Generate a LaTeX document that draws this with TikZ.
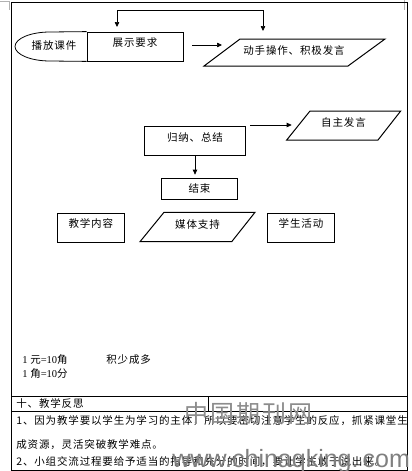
\documentclass[tikz,border=0pt]{standalone}
\usepackage{fontspec}
\setmainfont{Liberation Serif}
\newfontfamily\cjk[LetterSpace=8]{Noto Sans CJK SC}
\newfontfamily\wmfont{Liberation Sans}
\usetikzlibrary{arrows.meta}
\begin{document}
\begin{tikzpicture}[x=1pt,y=-1pt,
  line width=0.8pt,
  txt/.style={font=\cjk\fontsize{10.5pt}{12pt}\selectfont, inner sep=0pt},
  plain/.style={font=\fontsize{10.5pt}{12pt}\selectfont, inner sep=0pt},
  boxed/.style={draw, line width=0.8pt, inner sep=0pt},
  raised/.style={text height=8pt, text depth=8pt},
  arr/.style={-{Triangle[length=5pt,width=4.5pt]}, line width=0.7pt},
  dbl/.style={{Triangle[length=5pt,width=4.5pt]}-{Triangle[length=5pt,width=4.5pt]}, line width=0.7pt},
  para/.style={draw, line width=1pt},
  frame/.style={line width=0.9pt},
  cropmark/.style={draw=black!30, line width=0.6pt}
]
\useasboundingbox (0,0) rectangle (412,471);

% corner marks
\draw[cropmark] (0,1) -- (9,1) -- (9,10);
\draw[cropmark] (404,0) -- (404,10);

% table frame
\draw[frame] (11,2.5) rectangle (407.5,470.5);
\draw[frame] (11,396) -- (407.5,396);
\draw[frame] (11,411.5) -- (407.5,411.5);
\draw[frame] (208,396) -- (208,411.5);

% flowchart, first row
\node[boxed, txt, raised, minimum width=96pt, minimum height=29pt] (show) at (135,46.5) {展示要求};
\node[txt] (play) at (54,45.5) {播放课件};
\draw (show.north west) -- (50,32) arc[start angle=90, end angle=270, x radius=35pt, y radius=14.5pt] -- (show.south west);

\draw[para] (240,39) -- (385,39) -- (348,66) -- (204,66) -- cycle;
\node[txt] (act) at (294,51) {动手操作、积极发言};

\coordinate (a1) at (192,45);
\coordinate (a2) at (222,45);
\draw[arr] (a1) -- (a2);

\coordinate (t1) at (117,27);
\coordinate (t2) at (263,31);
\draw[dbl] (t1) -- ++(0,-17) -| (t2);

% second block
\node[boxed, txt, raised, minimum width=101.7pt, minimum height=28.3pt] (sum) at (195,141) {归纳、总结};
\coordinate (a3) at (250,125);
\coordinate (a4) at (291.7,125);
\draw[arr] (a3) -- (a4);

\draw[para] (310,111) -- (400.7,111) -- (378,140) -- (286.7,140) -- cycle;
\node[txt] (self) at (343.5,123) {自主发言};

\node[boxed, txt, minimum width=75.6pt, minimum height=20.7pt] (fin) at (199.5,188.7) {结束};
\draw[arr, shorten >=3.3pt] (sum.south) -- (sum.south |- fin.north);

% legend row
\node[boxed, txt, raised, minimum width=67pt, minimum height=29pt] (cont) at (90.8,227.8) {教学内容};
\draw[para] (164,212.3) -- (255,212.3) -- (231.7,241.7) -- (140,241.7) -- cycle;
\node[txt] (media) at (197.5,224.5) {媒体支持};
\node[boxed, txt, raised, minimum width=67.4pt, minimum height=29pt] (stud) at (301,227.8) {学生活动};

% notes
\node[plain, anchor=west] (m1) at (22,359.3) {1 {\cjk 元}=10{\cjk 角}};
\node[txt, anchor=west] (m2) at (106,359.3) {积少成多};
\node[plain, anchor=west] (m3) at (22,374) {1 {\cjk 角}=10{\cjk 分}};

% reflection
\node[txt, anchor=west] (r0) at (16,403.5) {十、教学反思};
\node[txt, anchor=west] (r1) at (16,420.5) {1、因为教学要以学生为学习的主体，所以要密切注意学生的反应，抓紧课堂生};
\node[txt, anchor=west] (r2) at (16,445) {成资源，灵活突破教学难点。};
\node[txt, anchor=west] (r3) at (16,461.5) {2、小组交流过程要给予适当的指导和充分的时间，要让学生敢于说出来。};

% watermark
\node[font=\cjk\fontsize{24pt}{26pt}\selectfont, text=black!45, inner sep=0pt, anchor=west] (wm1) at (184,413) {中国期刊网};
\node[font=\wmfont\fontsize{25pt}{27pt}\selectfont, text=black!50, inner sep=0pt, anchor=base west] (wm2) at (172,467) {www.chinaqking.\,com};
\end{tikzpicture}
\end{document}
